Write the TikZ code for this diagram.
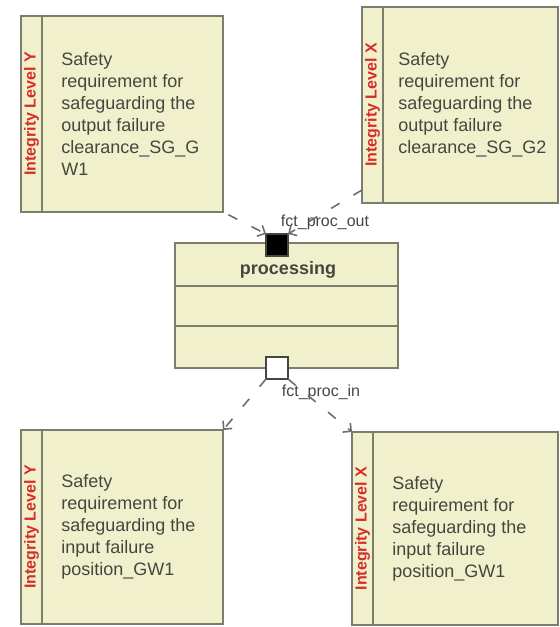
\documentclass[tikz,border=0pt]{standalone}
\usepackage{fontspec}
\setmainfont{Liberation Sans}
\usetikzlibrary{arrows.meta}
\definecolor{reqfill}{RGB}{240,241,204}
\definecolor{reqline}{RGB}{125,125,110}
\definecolor{txtgray}{RGB}{70,70,65}
\definecolor{levelred}{RGB}{215,45,40}
\definecolor{depgray}{RGB}{110,110,110}
\tikzstyle{block}=[draw=reqline, line width=1pt, fill=reqfill, inner sep=0, outer sep=0]
\tikzstyle{req}=[block, minimum width=101pt, minimum height=98pt]
\tikzstyle{level}=[rotate=90, inner sep=0, text=levelred, font=\fontsize{8}{9}\selectfont\bfseries]
\tikzstyle{reqtext}=[anchor=west, align=left, inner sep=0, text=txtgray, font=\fontsize{9}{11}\selectfont]
\tikzstyle{port}=[draw=txtgray, line width=0.8pt, inner sep=0, outer sep=0, minimum size=11pt]
\tikzstyle{portlabel}=[inner sep=0, text=txtgray, font=\fontsize{8}{9}\selectfont]
\tikzstyle{dep}=[draw=depgray, line width=0.8pt, dash pattern=on 5pt off 8pt,
                 -{Straight Barb[length=3pt, width=6pt]}]

\begin{document}
\begin{tikzpicture}[x=0.5pt, y=-0.5pt]
        \useasboundingbox (0,0) rectangle (560,627);
        % requirements
        \node[req] (R1) at (122,114) {};
        \node[req, minimum width=98pt] (R2) at (460,105) {};
        \node[req, minimum height=97pt] (R3) at (122,527) {};
        \node[req, minimum width=103pt, minimum height=96.5pt] (R4) at (455,528.5) {};
        \foreach \r/\lvl in {R1/Y, R2/X, R3/Y, R4/X} {
            \draw[reqline, line width=1pt] ([xshift=10.5pt]\r.north west) -- ([xshift=10.5pt]\r.south west);
            \node[level] (\r-lvl) at ([xshift=5.25pt]\r.west) {Integrity Level \lvl};
        }
        \node[reqtext] (T1) at ([xshift=20pt]R1.west) {Safety\\requirement for\\safeguarding the\\output failure\\clearance\_SG\_G\\W1};
        \node[reqtext] (T2) at ([xshift=18pt]R2.west) {Safety\\requirement for\\safeguarding the\\output failure\\clearance\_SG\_G2};
        \node[reqtext] (T3) at ([xshift=20pt]R3.west) {Safety\\requirement for\\safeguarding the\\input failure\\position\_GW1};
        \node[reqtext] (T4) at ([xshift=20pt]R4.west) {Safety\\requirement for\\safeguarding the\\input failure\\position\_GW1};
        % function block
        \node[block, minimum width=111.5pt, minimum height=62.5pt] (P) at (286.5,305.5) {};
        \draw[reqline, line width=1pt] ([yshift=-21.5pt]P.north west) -- ([yshift=-21.5pt]P.north east);
        \draw[reqline, line width=1pt] ([yshift=-41.5pt]P.north west) -- ([yshift=-41.5pt]P.north east);
        \node[text=txtgray, font=\fontsize{9}{11}\selectfont\bfseries] (Pname) at (288,270) {processing};
        \node[port, fill=black] (Pout) at (277,245) {};
        \node[port, fill=white] (Pin) at (277,368) {};
        \node[portlabel] (Lout) at (325,222) {fct\_proc\_out};
        \node[portlabel] (Lin) at (321,392) {fct\_proc\_in};
        % dependencies
        \draw[dep, shorten <=3pt] (R1.south east) -- (Pout.north west);
        \draw[dep] ([yshift=6.5pt]R2.south west) -- (Pout.north east);
        \draw[dep] (Pin.south west) -- (R3.north east);
        \draw[dep] (Pin.south east) -- (R4.north west);
    \end{tikzpicture}
\end{document}
